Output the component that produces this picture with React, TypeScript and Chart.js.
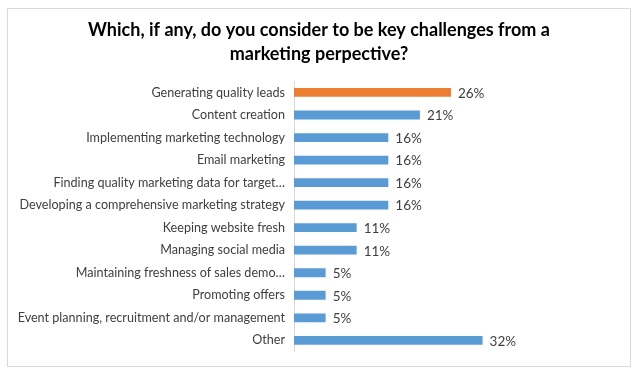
import React, { useEffect, useRef } from "react";
import { Chart, registerables } from "chart.js";

Chart.register(...registerables);

const titleLines = [
  "Which, if any, do you consider to be key challenges from a",
  "marketing perpective?",
];

const categories = [
  "Generating quality leads",
  "Content creation",
  "Implementing marketing technology",
  "Email marketing",
  "Finding quality marketing data for target…",
  "Developing a comprehensive marketing strategy",
  "Keeping website fresh",
  "Managing social media",
  "Maintaining freshness of sales demo…",
  "Promoting offers",
  "Event planning, recruitment and/or management",
  "Other",
];

const values = [26.3, 21.1, 15.8, 15.8, 15.8, 15.8, 10.5, 10.5, 5.3, 5.3, 5.3, 31.6];

const highlightIndex = 0;

const dataLabelPlugin = {
  id: "dataLabels",
  afterDatasetsDraw(chart: any) {
    const ctx = chart.ctx;
    const meta = chart.getDatasetMeta(0);
    const ds = chart.data.datasets[0];
    ctx.save();
    ctx.font = "13.5px Lato, 'Noto Sans', sans-serif";
    ctx.fillStyle = "#404040";
    ctx.textAlign = "left";
    ctx.textBaseline = "middle";
    meta.data.forEach((bar: any, i: number) => {
      const v = ds.data[i] as number;
      ctx.fillText(Math.round(v) + "%", bar.x + 7, bar.y + 1);
    });
    ctx.restore();
  },
};

export default function App() {
  const ref = useRef<HTMLCanvasElement | null>(null);

  useEffect(() => {
    if (!ref.current) return;
    const chart = new Chart(ref.current, {
      type: "bar",
      data: {
        labels: categories,
        datasets: [
          {
            data: values,
            backgroundColor: (c: any) => (c.dataIndex === highlightIndex ? "#ED7D31" : "#5B9BD5"),
            barPercentage: 0.39,
            categoryPercentage: 1,
          },
        ],
      },
      options: {
        indexAxis: "y",
        animation: false,
        responsive: false,
        devicePixelRatio: 1,
        layout: { padding: { left: 0, right: 0, top: 0, bottom: 14.4 } },
        plugins: {
          legend: { display: false },
          tooltip: { enabled: false },
          title: {
            display: true,
            text: titleLines,
            color: "#000000",
            font: { family: "Lato, 'Noto Sans', sans-serif", size: 18, weight: "bold", lineHeight: "24px" },
            padding: { top: 9.5, bottom: 14.7 },
          },
        },
        scales: {
          x: {
            display: false,
            min: 0,
            max: 56.3,
          },
          y: {
            offset: true,
            grid: { display: false, drawTicks: false },
            border: { display: true, color: "#D9D9D9", width: 1 },
            ticks: {
              color: "#404040",
              font: { family: "Lato, 'Noto Sans', sans-serif", size: 12.6 },
              padding: 9,
              autoSkip: false,
            },
            afterFit: (scale: any) => {
              scale.width = 286;
              scale.paddingTop = 0;
              scale.paddingBottom = 0;
            },
          },
        },
      },
      plugins: [dataLabelPlugin],
    });
    return () => chart.destroy();
  }, []);

  return (
    <div
      style={{
        position: "absolute",
        left: 7,
        top: 8,
        width: 622,
        height: 357,
        border: "1px solid #D9D9D9",
        background: "#fff",
      }}
    >
      <canvas ref={ref} width={622} height={357} style={{ display: "block" }} />
    </div>
  );
}
